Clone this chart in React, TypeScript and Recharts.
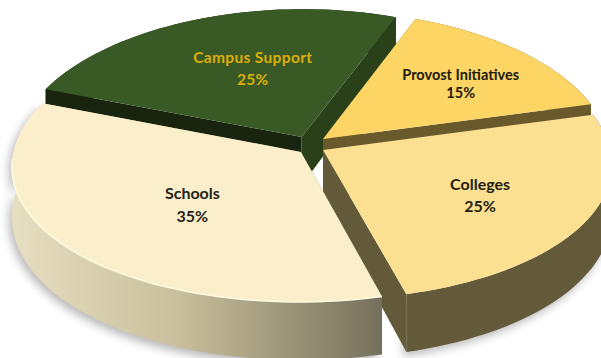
import { Pie, PieChart } from 'recharts'

const categories = ['Campus Support', 'Provost Initiatives', 'Colleges', 'Schools']
const shares = [25, 15, 25, 35]

const topColors = ['#3a5a25', '#fcd564', '#fbe091', '#fbefcb']
const textColors = ['#dcae0a', '#1d1a0c', '#1f1c0e', '#25231a']
const labelSizes = [15.5, 14.5, 16, 16]
const labelGaps = [22, 18, 22, 23]
const labelTracking = [0.35, 0, 0, 0]
const labelReach = [0.5, 0.6, 0.63, 0.52]
// fine placement of each label on top of its radial position, in px
const labelNudge = [
  [6, -8],
  [16, -2],
  [-5, 1],
  [7, 3],
]

// how far each slice is pulled out of the pie, in radius units (right, back)
const pullOut = [
  [-0.04, 0.058],
  [0.035, 0.043],
  [0.035, -0.036],
  [-0.042, -0.05],
]

const WIDTH = 601
const HEIGHT = 358
const CENTER_X = 313
const CENTER_Y = 145
const RADIUS = 286
const TILT = 0.483
const PERSPECTIVE_X = 0.1
const PERSPECTIVE_Y = 0.072
const DEPTH = 49

const toRad = (deg: number) => (deg * Math.PI) / 180

/** Tilted-plane projection: (x, y) in radius units, y pointing to the back of the pie. */
function project(x: number, y: number, drop = 0) {
  const wall = drop * DEPTH * (1 - 0.18 * y)
  return [
    CENTER_X + (x * RADIUS) / (1 + PERSPECTIVE_X * y),
    CENTER_Y - (y * RADIUS * TILT) / (1 + PERSPECTIVE_Y * y) + wall,
  ]
}

const toPath = (points: number[][]) =>
  'M' + points.map((p) => `${p[0].toFixed(1)},${p[1].toFixed(1)}`).join('L') + 'Z'

function arcAngles(start: number, end: number) {
  const steps = Math.ceil(Math.abs(end - start) / 2)
  return Array.from({ length: steps + 1 }, (_, i) => start + ((end - start) * i) / steps)
}

function wallFill(index: number, side: 'start' | 'end' | 'outer') {
  if (index === 0) return side === 'end' ? '#2a4019' : '#18240e'
  if (index === 1) return '#6a5a2b'
  if (index === 2) return '#635a3a'
  return 'url(#schoolsWall)'
}

function Slice3D(props: any) {
  const { startAngle, endAngle, payload } = props
  const index = categories.indexOf(payload.name)
  const [ox, oy] = pullOut[index]
  const at = (deg: number, r: number, drop = 0) =>
    project(ox + r * Math.cos(toRad(deg)), oy + r * Math.sin(toRad(deg)), drop)

  const angles = arcAngles(startAngle, endAngle)
  const rim = angles.map((a) => at(a, 1))
  const rimLow = angles.map((a) => at(a, 1, 1))
  const apex = at(0, 0)
  const apexLow = at(0, 0, 1)

  const top = toPath([apex, ...rim])
  const outer = toPath([...rim, ...rimLow.slice().reverse()])
  const startWall = toPath([apex, rim[0], rimLow[0], apexLow])
  const endWall = toPath([apex, rim[rim.length - 1], rimLow[rimLow.length - 1], apexLow])
  const footprint = toPath([apexLow, ...rimLow, ...rim.slice().reverse()])

  return (
    <g>
      <defs>
        <linearGradient id="schoolsWall" gradientUnits="userSpaceOnUse" x1="15" y1="0" x2="380" y2="0">
          <stop offset="0" stopColor="#e6dec0" />
          <stop offset="0.45" stopColor="#c9bf9c" />
          <stop offset="1" stopColor="#76715c" />
        </linearGradient>
        <filter id="softShadow" x="-10%" y="-10%" width="120%" height="120%">
          <feGaussianBlur stdDeviation="5" />
        </filter>
      </defs>
      {index >= 2 && (
        <path d={footprint} fill="#000" opacity={0.28} filter="url(#softShadow)" transform="translate(-3 4)" />
      )}
      <path d={outer} fill={wallFill(index, 'outer')} />
      <path d={startWall} fill={wallFill(index, 'start')} />
      <path d={endWall} fill={wallFill(index, 'end')} />
      <path d={top} fill={topColors[index]} />
      {index === 3 && (
        <path
          d={'M' + rim.slice(0, -12).map((p) => p.join(',')).join('L')}
          fill="none"
          stroke="#fffce2"
          strokeWidth={1.5}
        />
      )}
    </g>
  )
}

function SliceLabel(props: any) {
  const { midAngle, name, value } = props
  const index = categories.indexOf(name)
  const [ox, oy] = pullOut[index]
  const r = labelReach[index]
  const [px, py] = project(ox + r * Math.cos(toRad(midAngle)), oy + r * Math.sin(toRad(midAngle)))
  const x = px + labelNudge[index][0]
  const y = py + labelNudge[index][1]
  const size = labelSizes[index]
  const gap = labelGaps[index]
  return (
    <text
      x={x}
      y={y}
      textAnchor="middle"
      fontFamily="Lato, 'Open Sans', sans-serif"
      fontWeight={700}
      fontSize={size}
      letterSpacing={labelTracking[index]}
      fill={textColors[index]}
    >
      <tspan x={x} dy={size * 0.35 - gap / 2}>
        {name}
      </tspan>
      <tspan x={x} dy={gap}>
        {value}%
      </tspan>
    </text>
  )
}

const rows = categories.map((name, i) => ({ name, value: shares[i] }))

export default function App() {
  return (
    <div style={{ position: 'absolute', left: 0, top: 0, width: WIDTH, height: HEIGHT, background: '#fff' }}>
      <PieChart width={WIDTH} height={HEIGHT} margin={{ top: 0, right: 0, bottom: 0, left: 0 }}>
        <Pie
          data={rows}
          dataKey="value"
          nameKey="name"
          cx={CENTER_X}
          cy={CENTER_Y}
          outerRadius={RADIUS}
          startAngle={159}
          endAngle={-201}
          stroke="none"
          shape={Slice3D}
          label={SliceLabel}
          labelLine={false}
          isAnimationActive={false}
        />
      </PieChart>
    </div>
  )
}
